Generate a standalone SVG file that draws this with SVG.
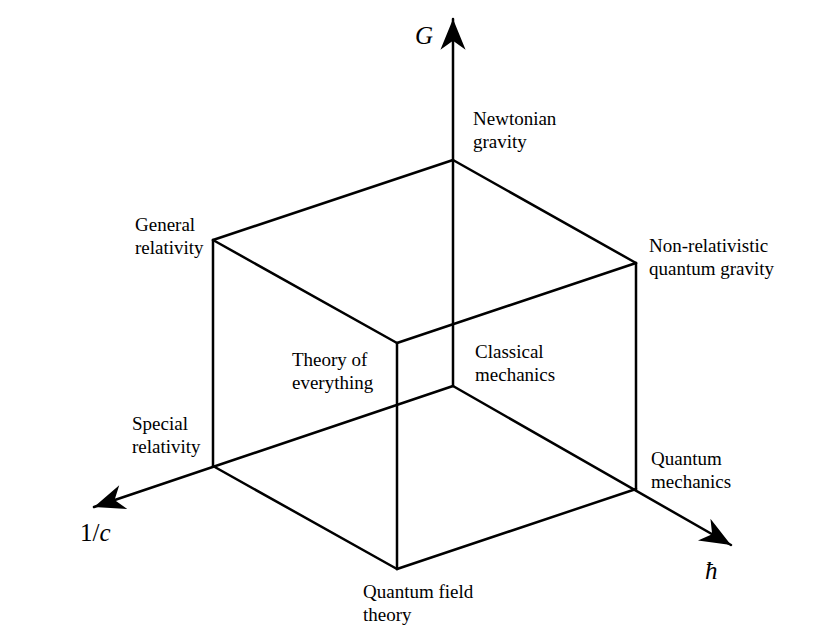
<svg xmlns="http://www.w3.org/2000/svg" width="819" height="632" viewBox="0 0 819 632">
<defs>
<marker id="arr" markerUnits="userSpaceOnUse" markerWidth="40" markerHeight="40" viewBox="-30 -15 35 30" refX="0" refY="0" orient="auto">
<path d="M0,0 L-27,-11 L-19,0 L-27,11 Z" fill="#000"/>
</marker>
<style>
.e{stroke:#000;stroke-width:2.5;fill:none;stroke-linecap:round;stroke-linejoin:round}
.t{font-family:"Liberation Serif","DejaVu Serif",serif;font-size:19px;fill:#000}
.m{font-family:"Liberation Serif","DejaVu Serif",serif;font-size:25px;font-style:italic;fill:#000}
.n{font-family:"Liberation Serif","DejaVu Serif",serif;font-size:25px;fill:#000}
</style>
</defs>
<rect width="819" height="632" fill="#fff"/>
<g id="connectors">
<line class="e" x1="453" y1="386" x2="453" y2="19" marker-end="url(#arr)"/>
<line class="e" x1="453" y1="386" x2="94" y2="507" marker-end="url(#arr)"/>
<line class="e" x1="453" y1="386" x2="731" y2="545" marker-end="url(#arr)"/>
<line class="e" x1="453" y1="160" x2="213" y2="240"/>
<line class="e" x1="453" y1="160" x2="636" y2="263"/>
<line class="e" x1="213" y1="240" x2="397" y2="343"/>
<line class="e" x1="636" y1="263" x2="397" y2="343"/>
<line class="e" x1="213" y1="240" x2="213" y2="466"/>
<line class="e" x1="636" y1="263" x2="636" y2="489"/>
<line class="e" x1="397" y1="343" x2="397" y2="569"/>
<line class="e" x1="213" y1="466" x2="397" y2="569"/>
<line class="e" x1="636" y1="489" x2="397" y2="569"/>
</g>
<g id="axis-G"><text class="m" x="415" y="44">G</text></g>
<g id="axis-c"><text class="n" x="80" y="541">1/<tspan font-style="italic">c</tspan></text></g>
<g id="axis-hbar"><text class="m" x="705" y="579">ħ</text></g>
<g id="newtonian"><text class="t" x="473" y="125">Newtonian</text><text class="t" x="473" y="148">gravity</text></g>
<g id="general-relativity"><text class="t" x="135" y="231">General</text><text class="t" x="135" y="254">relativity</text></g>
<g id="nrqg"><text class="t" x="649" y="252">Non-relativistic</text><text class="t" x="649" y="275">quantum gravity</text></g>
<g id="toe"><text class="t" x="292" y="366">Theory of</text><text class="t" x="292" y="389">everything</text></g>
<g id="classical"><text class="t" x="475" y="358">Classical</text><text class="t" x="475" y="381">mechanics</text></g>
<g id="special-relativity"><text class="t" x="132" y="430">Special</text><text class="t" x="132" y="453">relativity</text></g>
<g id="quantum-mechanics"><text class="t" x="651" y="465">Quantum</text><text class="t" x="651" y="488">mechanics</text></g>
<g id="qft"><text class="t" x="363" y="598">Quantum field</text><text class="t" x="363" y="621">theory</text></g>
</svg>
